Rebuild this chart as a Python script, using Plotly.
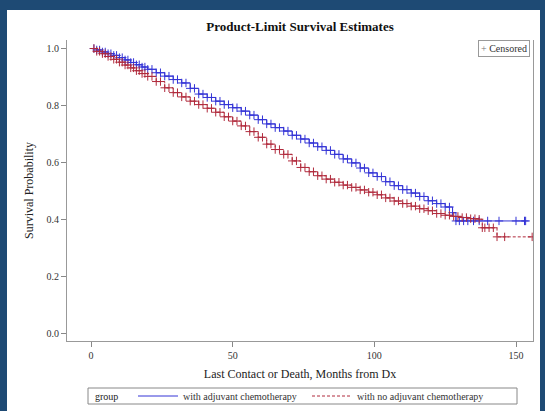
import bisect
import plotly.graph_objects as go

# ---- data (months, survival probability) ----
chemo_months = [0, 2, 4, 6, 8, 10, 12, 14, 16, 18, 20, 23, 26, 29, 32, 35, 38, 41, 44, 47,
                50, 53, 56, 59, 62, 65, 68, 71, 74, 77, 80, 83, 86, 89, 92, 95, 98, 101,
                104, 107, 110, 113, 116, 119, 122, 125, 127.6, 128.8, 153.4]
chemo_surv = [1.0, 0.995, 0.988, 0.982, 0.976, 0.968, 0.960, 0.951, 0.943, 0.935, 0.927,
              0.915, 0.903, 0.891, 0.879, 0.860, 0.840, 0.828, 0.815, 0.803, 0.792, 0.780,
              0.766, 0.750, 0.735, 0.722, 0.710, 0.695, 0.682, 0.668, 0.655, 0.642, 0.628,
              0.612, 0.598, 0.580, 0.563, 0.550, 0.532, 0.518, 0.504, 0.492, 0.480, 0.465,
              0.455, 0.443, 0.423, 0.394, 0.394]
chemo_censored = [1, 3, 5, 7, 9, 11, 13, 15, 17, 19, 21.5, 24.5, 27.5, 30.5, 33.5, 36.5,
                  39.5, 42.5, 45.5, 48.5, 51.5, 54.5, 57.5, 60.5, 63.5, 66.5, 69.5, 72.5,
                  75.5, 78.5, 81.5, 84.5, 87.5, 90.5, 93.5, 96.5, 99.5, 102.5, 105.5, 108.5,
                  111.5, 114.5, 117.5, 120.5, 123.5, 126.5, 130, 131.5, 133, 135, 137, 140,
                  144, 150, 153]

nochemo_months = [0, 2, 4, 6, 8, 10, 12, 14, 16, 18, 20, 23, 26, 29, 32, 35, 38, 41, 44, 47,
                  50, 53, 56, 59, 62, 65, 68, 71, 74, 77, 80, 83, 86, 89, 92, 95, 98, 101,
                  104, 107, 110, 113, 116, 119, 122, 125, 128, 131, 134, 137, 138.1,
                  143.3, 155.7]
nochemo_surv = [1.0, 0.990, 0.982, 0.972, 0.962, 0.952, 0.942, 0.932, 0.922, 0.912, 0.902,
                0.884, 0.862, 0.845, 0.830, 0.815, 0.803, 0.790, 0.776, 0.760, 0.745, 0.728,
                0.708, 0.688, 0.664, 0.645, 0.628, 0.605, 0.582, 0.567, 0.553, 0.541, 0.530,
                0.520, 0.512, 0.503, 0.495, 0.486, 0.475, 0.464, 0.455, 0.446, 0.437, 0.430,
                0.420, 0.414, 0.410, 0.406, 0.402, 0.400, 0.370, 0.338, 0.338]
nochemo_censored = [1, 3, 5, 7, 9, 11, 13, 15, 17, 19, 21.5, 24.5, 27.5, 30.5, 33.5, 36.5,
                    39.5, 42.5, 45.5, 48.5, 51.5, 54.5, 57.5, 60.5, 63.5, 66.5, 69.5, 72.5,
                    75.5, 78.5, 81.5, 84.5, 87.5, 90.5, 93.5, 96.5, 99.5, 102.5, 105.5, 108.5,
                    111.5, 114.5, 117.5, 120.5, 123.5, 126.5, 129.5, 132.5, 135.5, 139, 140.5,
                    142, 146]

series_names = ["with adjuvant chemotherapy", "with no adjuvant chemotherapy"]
legend_title = "group"
x_ticks = [0, 50, 100, 150]
y_ticks = [0.0, 0.2, 0.4, 0.6, 0.8, 1.0]

BLUE = "#3434d6"
RED = "#b02a3c"
FONT = "Liberation Serif"


def step_value(times, surv, t):
    """Kaplan-Meier step function value at time t (censor marks sit on the curve)."""
    i = bisect.bisect_right(times, t) - 1
    return surv[max(i, 0)]


def marks(times, surv, cens):
    xs = list(times[1:]) + list(cens)
    ys = list(surv[1:]) + [step_value(times, surv, t) for t in cens]
    return xs, ys


fig = go.Figure()

# step curves
fig.add_trace(go.Scatter(x=chemo_months, y=chemo_surv, mode="lines", line_shape="hv",
                         line=dict(color=BLUE, width=1), name=series_names[0],
                         legend="legend"))
fig.add_trace(go.Scatter(x=nochemo_months, y=nochemo_surv, mode="lines", line_shape="hv",
                         line=dict(color=RED, width=1, dash="3px,2px"), name=series_names[1],
                         legend="legend2"))

# censor marks
bx, by = marks(chemo_months, chemo_surv, chemo_censored)
rx, ry = marks(nochemo_months, nochemo_surv, nochemo_censored)
fig.add_trace(go.Scatter(x=bx, y=by, mode="markers",
                         marker=dict(symbol="cross-thin", size=6, line=dict(color=BLUE, width=1)),
                         showlegend=False, hoverinfo="skip"))
fig.add_trace(go.Scatter(x=rx, y=ry, mode="markers",
                         marker=dict(symbol="cross-thin", size=6, line=dict(color=RED, width=1)),
                         showlegend=False, hoverinfo="skip"))

L, T, W, H = 67, 40, 466, 301


def px_x(p):
    return (p - L) / W


def px_y(p):
    return (T + H - p) / H


legend_common = dict(orientation="h", xref="container", yref="container",
                     xanchor="left", y=1 - 396 / 411, yanchor="middle",
                     borderwidth=0, bgcolor="rgba(0,0,0,0)",
                     font=dict(family=FONT, size=10, color="#333333"),
                     itemwidth=40, tracegroupgap=0)

fig.update_layout(
    width=545, height=411,
    margin=dict(l=L, r=545 - L - W, t=T, b=411 - T - H, autoexpand=False),
    paper_bgcolor="#1e4a74",
    plot_bgcolor="white",
    font=dict(family=FONT, size=11, color="#222222"),
    title=dict(text="<b>Product-Limit Survival Estimates</b>", x=0.5, xref="paper",
               y=1 - 26 / 411, yanchor="middle", font=dict(family=FONT, size=13, color="#111111")),
    shapes=[
        dict(type="rect", xref="paper", yref="paper", layer="below",
             x0=px_x(7), x1=px_x(540), y0=px_y(430), y1=px_y(10),
             fillcolor="white", line=dict(width=0)),
        # frame of the group legend
        dict(type="rect", xref="paper", yref="paper",
             x0=px_x(88), x1=px_x(517), y0=px_y(404), y1=px_y(388),
             line=dict(color="#888888", width=1)),
    ],
    annotations=[
        dict(text="<span style='color:#777777'>+</span> Censored", xref="paper",
             yref="paper", x=px_x(530), xanchor="right", y=px_y(40),
             yanchor="top", showarrow=False, bordercolor="#999999", borderwidth=1,
             borderpad=2, bgcolor="white",
             font=dict(family=FONT, size=10, color="#333333")),
        dict(text=legend_title, xref="paper", yref="paper", x=px_x(93), xanchor="left",
             y=px_y(396), yanchor="middle", showarrow=False,
             font=dict(family=FONT, size=10, color="#222222")),
    ],
    xaxis=dict(range=[-8.5, 156], tickvals=x_ticks, ticks="outside", ticklen=5,
               tickcolor="#888888", showline=True, linecolor="#999999", linewidth=1,
               showgrid=False, zeroline=False, mirror=False,
               tickfont=dict(family=FONT, size=10, color="#333333"),
               title=dict(text="Last Contact or Death, Months from Dx", standoff=10,
                          font=dict(family=FONT, size=12, color="#222222"))),
    yaxis=dict(range=[-0.028, 1.03], tickvals=y_ticks, tickformat=".1f", ticks="outside",
               ticklen=5, tickcolor="#888888", showline=True, linecolor="#999999", linewidth=1,
               showgrid=False, zeroline=False, mirror=True,
               tickfont=dict(family=FONT, size=10, color="#333333"),
               title=dict(text="Survival Probability", standoff=10,
                          font=dict(family=FONT, size=12, color="#222222"))),
    legend=dict(x=133 / 545, **legend_common),
    legend2=dict(x=307 / 545, **legend_common),
)

fig.write_html("out.html", config={"displayModeBar": False},
               post_script="document.body.style.margin='0';")
